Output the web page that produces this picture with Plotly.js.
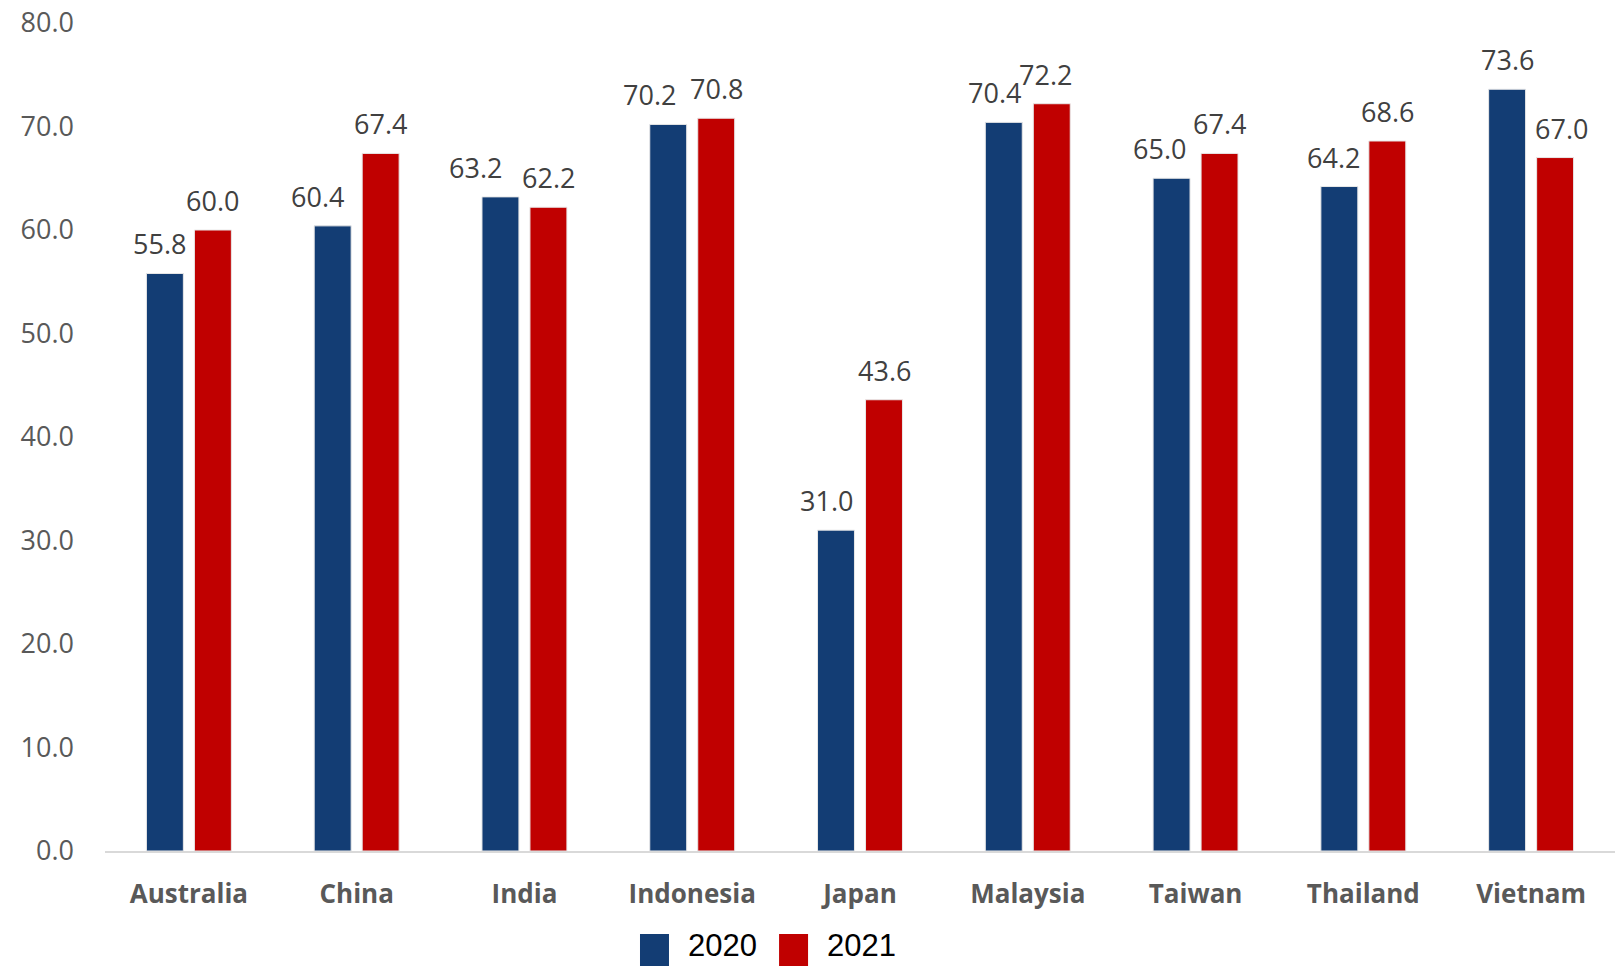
<!DOCTYPE html>
<html>
<head>
<meta charset="utf-8">
<script src="https://cdn.plot.ly/plotly-3.0.1.min.js"></script>
<style>html,body{margin:0;padding:0;background:#fff;}#chart{width:1615px;height:966px;}</style>
</head>
<body>
<div id="chart"></div>
<script>
const categories = ["Australia","China","India","Indonesia","Japan","Malaysia","Taiwan","Thailand","Vietnam"];
const values2020 = [55.8, 60.4, 63.2, 70.2, 31.0, 70.4, 65.0, 64.2, 73.6];
const values2021 = [60.0, 67.4, 62.2, 70.8, 43.6, 72.2, 67.4, 68.6, 67.0];
const seriesNames = ["2020", "2021"];
const seriesColors = ["#133D74", "#C00000"];
const yTicks = [0, 10, 20, 30, 40, 50, 60, 70, 80];

// Horizontal nudges (px) of data labels, as placed in the original to avoid collisions
const labelNudge2020 = [-5, -15, -25, -19, -10, -9, -12, -6, 0];
const labelNudge2021 = [0, 0, 0, 0, 0, -6, 0, 0, 6];

const labelFont = {family: "Open Sans, Noto Sans, sans-serif", size: 27, color: "#404040"};

function makeTrace(vals, i) {
  return {
    type: "bar",
    x: categories,
    y: vals,
    name: seriesNames[i],
    marker: {color: seriesColors[i], line: {color: "#E8E8E8", width: 1}},
    hoverinfo: "x+y",
    showlegend: false
  };
}

const traces = [makeTrace(values2020, 0), makeTrace(values2021, 1)];

// Data labels as annotations anchored to the data values
const barHalfPitch = 24;
const annots = [];
[[values2020, labelNudge2020, -1], [values2021, labelNudge2021, 1]].forEach(([vals, nudges, side]) => {
  vals.forEach((v, k) => {
    annots.push({
      x: categories[k], y: v, xref: "x", yref: "y",
      xshift: side * barHalfPitch + nudges[k], yshift: 9,
      xanchor: "center", yanchor: "bottom", showarrow: false,
      text: v.toFixed(1), font: labelFont
    });
  });
});

// Custom legend (large square swatches) in paper coordinates
const legendShapes = [];
const swX = [0.3543, 0.4464];
seriesNames.forEach((n, i) => {
  legendShapes.push({
    type: "rect", xref: "paper", yref: "paper",
    x0: swX[i], x1: swX[i] + 0.0192, y0: -0.1002, y1: -0.1400,
    fillcolor: seriesColors[i], line: {width: 0}
  });
  annots.push({
    xref: "paper", yref: "paper", x: swX[i] + 0.031, y: -0.1140,
    xanchor: "left", yanchor: "middle", showarrow: false, borderpad: 0,
    text: n, font: {family: "Liberation Sans, Arial, sans-serif", size: 31, color: "#000000"}
  });
});

const layout = {
  width: 1615, height: 966,
  margin: {l: 105, r: 0, t: 23, b: 115},
  paper_bgcolor: "#ffffff", plot_bgcolor: "#ffffff",
  barmode: "group",
  bargap: 0.428,
  bargroupgap: 0.23,
  showlegend: false,
  xaxis: {
    type: "category",
    showline: true, linecolor: "#D9D9D9", linewidth: 2,
    ticks: "", showgrid: false, zeroline: false,
    tickfont: {family: "Open Sans, Noto Sans, sans-serif", size: 26, color: "#595959", weight: "bold"},
    ticklabelstandoff: 19
  },
  yaxis: {
    range: [0, 80],
    tickvals: yTicks,
    ticktext: yTicks.map(v => v.toFixed(1)),
    showgrid: false, zeroline: false, showline: false, ticks: "",
    tickfont: {family: "Open Sans, Noto Sans, sans-serif", size: 27, color: "#595959"},
    ticklabelstandoff: 30
  },
  shapes: legendShapes,
  annotations: annots
};

Plotly.newPlot("chart", traces, layout, {displayModeBar: false, staticPlot: true});
</script>
</body>
</html>
